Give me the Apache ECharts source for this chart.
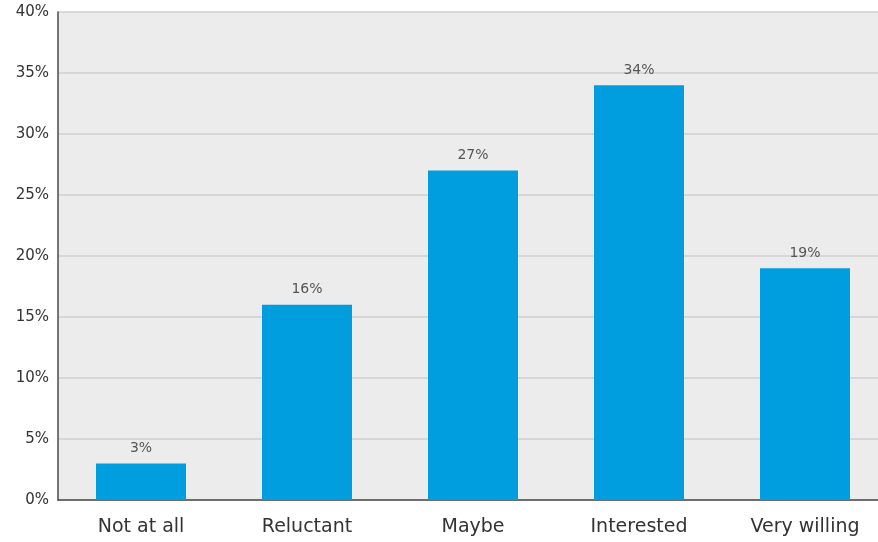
<!DOCTYPE html>
<html>
<head>
<meta charset="utf-8">
<script src="https://cdn.jsdelivr.net/npm/echarts@6/dist/echarts.min.js"></script>
<style>
  html, body { margin: 0; padding: 0; background: #fff; overflow: hidden; }
  #wrap { width: 878px; height: 542px; overflow: hidden; }
  /* plot runs slightly past the right edge of the view */
  #chart { width: 888px; height: 542px; }
</style>
</head>
<body>
<div id="wrap"><div id="chart"></div></div>
<script>
// Willingness responses, share of respondents (%)
const categories = ['Not at all', 'Reluctant', 'Maybe', 'Interested', 'Very willing'];
const shares = [3, 16, 27, 34, 19];
const yTicks = [0, 5, 10, 15, 20, 25, 30, 35, 40];

const chart = echarts.init(document.getElementById('chart'));
chart.setOption({
  animation: false,
  grid: {
    left: 58, right: 0, top: 12, bottom: 42,
    show: true, backgroundColor: '#ebeceb', borderWidth: 0
  },
  xAxis: {
    type: 'category',
    data: categories,
    axisLine: { lineStyle: { color: '#4a4a4a', width: 1.5 } },
    axisTick: { show: false },
    axisLabel: { color: '#333', fontSize: 19, fontFamily: 'DejaVu Sans', margin: 18 }
  },
  yAxis: {
    type: 'value',
    min: yTicks[0], max: yTicks[yTicks.length - 1], interval: 5,
    axisLine: { show: true, lineStyle: { color: '#4a4a4a', width: 1.5 } },
    axisTick: { show: false },
    splitLine: { lineStyle: { color: '#cfd0cf', width: 1.5 } },
    axisLabel: { color: '#333', fontSize: 15, fontFamily: 'DejaVu Sans', margin: 9,
      formatter: v => v + '%' }
  },
  series: [{
    type: 'bar',
    data: shares,
    barWidth: 90,
    itemStyle: { color: '#009ddf' },
    label: {
      show: true, position: 'top', distance: 8,
      color: '#555', fontSize: 14, fontFamily: 'DejaVu Sans',
      formatter: p => p.value + '%'
    }
  }]
});
</script>
</body>
</html>
